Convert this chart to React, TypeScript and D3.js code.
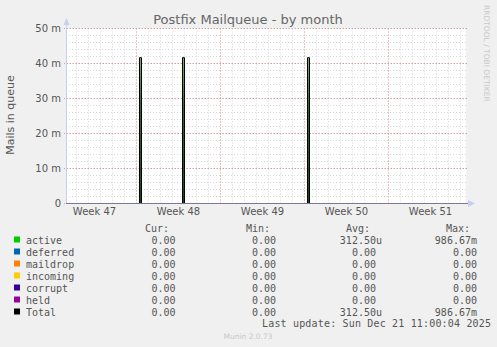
import React from "react";
import * as d3 from "d3";

const W = 497;
const H = 347;

// data
const HOUR = 3600 * 1000;
const endTime = Date.UTC(2025, 11, 21, 11, 0, 0);
const startTime = endTime - 800 * HOUR;
const sampleStep = 2 * HOUR;
const spikeTimes = [Date.UTC(2025, 10, 24, 8), Date.UTC(2025, 10, 27, 22), Date.UTC(2025, 11, 8, 8)];
const spikeValues = [1 / 24, 1 / 24, 1 / 24];
const yTicks = [0, 0.01, 0.02, 0.03, 0.04, 0.05];
const yTickLabels = ["0", "10 m", "20 m", "30 m", "40 m", "50 m"];
const weekStarts = [Date.UTC(2025, 10, 17), Date.UTC(2025, 10, 24), Date.UTC(2025, 11, 1), Date.UTC(2025, 11, 8), Date.UTC(2025, 11, 15)];
const weekLabels = ["Week 47", "Week 48", "Week 49", "Week 50", "Week 51"];
const seriesNames = ["active", "deferred", "maildrop", "incoming", "corrupt", "held", "Total"];
const seriesColors = ["#00cc00", "#0066b3", "#ff8000", "#ffcc00", "#330099", "#990099", "#000000"];
const curValues = ["0.00", "0.00", "0.00", "0.00", "0.00", "0.00", "0.00"];
const minValues = ["0.00", "0.00", "0.00", "0.00", "0.00", "0.00", "0.00"];
const avgValues = ["312.50u", "0.00 ", "0.00 ", "0.00 ", "0.00 ", "0.00 ", "312.50u"];
const maxValues = ["986.67m", "0.00", "0.00", "0.00", "0.00", "0.00", "986.67m"];

type Pt = { t: number; v: number };
const activeSeries: Pt[] = (() => {
  const pts: Pt[] = [{ t: startTime, v: 0 }];
  spikeTimes.forEach((t, i) => {
    pts.push({ t: t - sampleStep, v: spikeValues[i] });
    pts.push({ t: t + sampleStep, v: 0 });
  });
  pts.push({ t: endTime, v: 0 });
  return pts;
})();

const X0 = 66, X1 = 466, Y0 = 203.5, Y1 = 28.5;

export default function App() {
  const x = d3.scaleUtc().domain([startTime, endTime]).range([X0, X1]);
  const y = d3.scaleLinear().domain([0, 0.05]).range([Y0, Y1]);

  const area = d3.area<Pt>().x((d) => x(d.t)).y0(y(0)).y1((d) => y(d.v)).curve(d3.curveStepAfter);
  const line = d3.line<Pt>().x((d) => x(d.t)).y((d) => y(d.v)).curve(d3.curveStepAfter);

  const days = d3.utcDay.range(new Date(startTime), new Date(endTime));
  const mondays = d3.utcMonday.range(new Date(startTime), new Date(endTime));
  const minorY = d3.range(0, 0.0501, 0.002);

  const snap = (v: number) => Math.floor(v) + 0.5;
  const mono = "'DejaVu Sans Mono', monospace";
  const sans = "'DejaVu Sans', sans-serif";
  const textCol = "#555555";
  const rowY = (i: number) => 243.5 + i * 12;

  return (
    <svg width={W} height={H} style={{ position: "absolute", left: 0, top: 0, background: "#f0f0f0" }}>
      <defs>
        <linearGradient id="spikeFill" x1="0" y1="0" x2="0" y2="1">
          <stop offset="0" stopColor="#6fb86f" />
          <stop offset="0.35" stopColor="#2a6a2a" />
          <stop offset="1" stopColor="#1a4a1a" />
        </linearGradient>
      </defs>
      <rect x={0} y={0} width={W} height={H} fill="#f0f0f0" />
      <rect x={X0} y={Y1} width={X1 - X0} height={Y0 - Y1} fill="#ffffff" />
      {/* minor grid */}
      {days.map((d, i) => (
        <line key={"dv" + i} x1={snap(x(d))} x2={snap(x(d))} y1={Y1} y2={Y0} stroke="#d6d6d6" strokeDasharray="1,2" />
      ))}
      {minorY.map((v, i) => (
        <line key={"hv" + i} x1={X0} x2={X1 + 2} y1={y(v)} y2={y(v)} stroke="#d6d6d6" strokeDasharray="1,2" />
      ))}
      {/* major grid */}
      {mondays.map((d, i) => (
        <line key={"mv" + i} x1={snap(x(d))} x2={snap(x(d))} y1={Y1} y2={Y0 + 2} stroke="#e89a9a" strokeDasharray="1,2" />
      ))}
      {yTicks.map((v, i) => (
        <line key={"mh" + i} x1={X0 - 2} x2={X1 + 2} y1={y(v)} y2={y(v)} stroke="#e89a9a" strokeDasharray="1,2" />
      ))}
      {/* data */}
      <path d={area(activeSeries) || ""} fill="url(#spikeFill)" />
      <path d={line(activeSeries) || ""} fill="none" stroke="#000000" strokeWidth={1} />
      {/* axes */}
      <line x1={X0 + 0.5} x2={X0 + 0.5} y1={Y0} y2={22} stroke="#c8cef0" />
      <path d={`M${X0 - 2.5},${25} L${X0 + 0.5},${18} L${X0 + 3.5},${25} Z`} fill="#c8cef0" />
      <line x1={X0} x2={X1 + 2} y1={Y0} y2={Y0} stroke="#7a7a96" />
      <path d={`M${X1 + 2},${Y0 - 3.5} L${X1 + 9},${Y0} L${X1 + 2},${Y0 + 3.5} Z`} fill="#c8cef0" />
      {/* y labels */}
      {yTicks.map((v, i) => (
        <text key={"yl" + i} x={61} y={y(v) + 3.5} textAnchor="end" fontFamily={sans} fontSize={10} fill={textCol}>
          {yTickLabels[i]}
        </text>
      ))}
      {/* week labels */}
      {weekStarts.map((w, i) => (
        <text key={"wl" + i} x={x(w + 3.5 * 24 * HOUR)} y={215} textAnchor="middle" fontFamily={sans} fontSize={10} fill={textCol}>
          {weekLabels[i]}
        </text>
      ))}
      {/* title */}
      <text x={248} y={24} textAnchor="middle" fontFamily={sans} fontSize={13} fill="#666666">
        Postfix Mailqueue - by month
      </text>
      <text transform="translate(14,115) rotate(-90)" textAnchor="middle" fontFamily={sans} fontSize={11} fill={textCol}>
        Mails in queue
      </text>
      <text transform="translate(484,5) rotate(90)" textAnchor="start" fontFamily={sans} fontSize={7.5} fill="#c8c8c8">
        RRDTOOL / TOBI OETIKER
      </text>
      {/* legend */}
      <g fontFamily={mono} fontSize={10} fill={textCol}>
        <text x={169} y={231.5} textAnchor="end">Cur:</text>
        <text x={270} y={231.5} textAnchor="end">Min:</text>
        <text x={370} y={231.5} textAnchor="end">Avg:</text>
        <text x={470} y={231.5} textAnchor="end">Max:</text>
        {seriesNames.map((n, i) => (
          <g key={"lg" + i}>
            <rect x={14} y={rowY(i) - 7} width={6} height={6} fill={seriesColors[i]} />
            <text x={26} y={rowY(i)}>{n}</text>
            <text x={175.5} y={rowY(i)} textAnchor="end">{curValues[i]}</text>
            <text x={276} y={rowY(i)} textAnchor="end">{minValues[i]}</text>
            <text x={382} y={rowY(i)} textAnchor="end" xmlSpace="preserve" style={{ whiteSpace: "pre" }}>{avgValues[i]}</text>
            <text x={477} y={rowY(i)} textAnchor="end">{maxValues[i]}</text>
          </g>
        ))}
        <text x={262} y={327} textLength={229} lengthAdjust="spacing">Last update: Sun Dec 21 11:00:04 2025</text>
      </g>
      <text x={248} y={339} textAnchor="middle" fontFamily={sans} fontSize={7.5} fill="#c8c8c8">
        Munin 2.0.73
      </text>
    </svg>
  );
}
